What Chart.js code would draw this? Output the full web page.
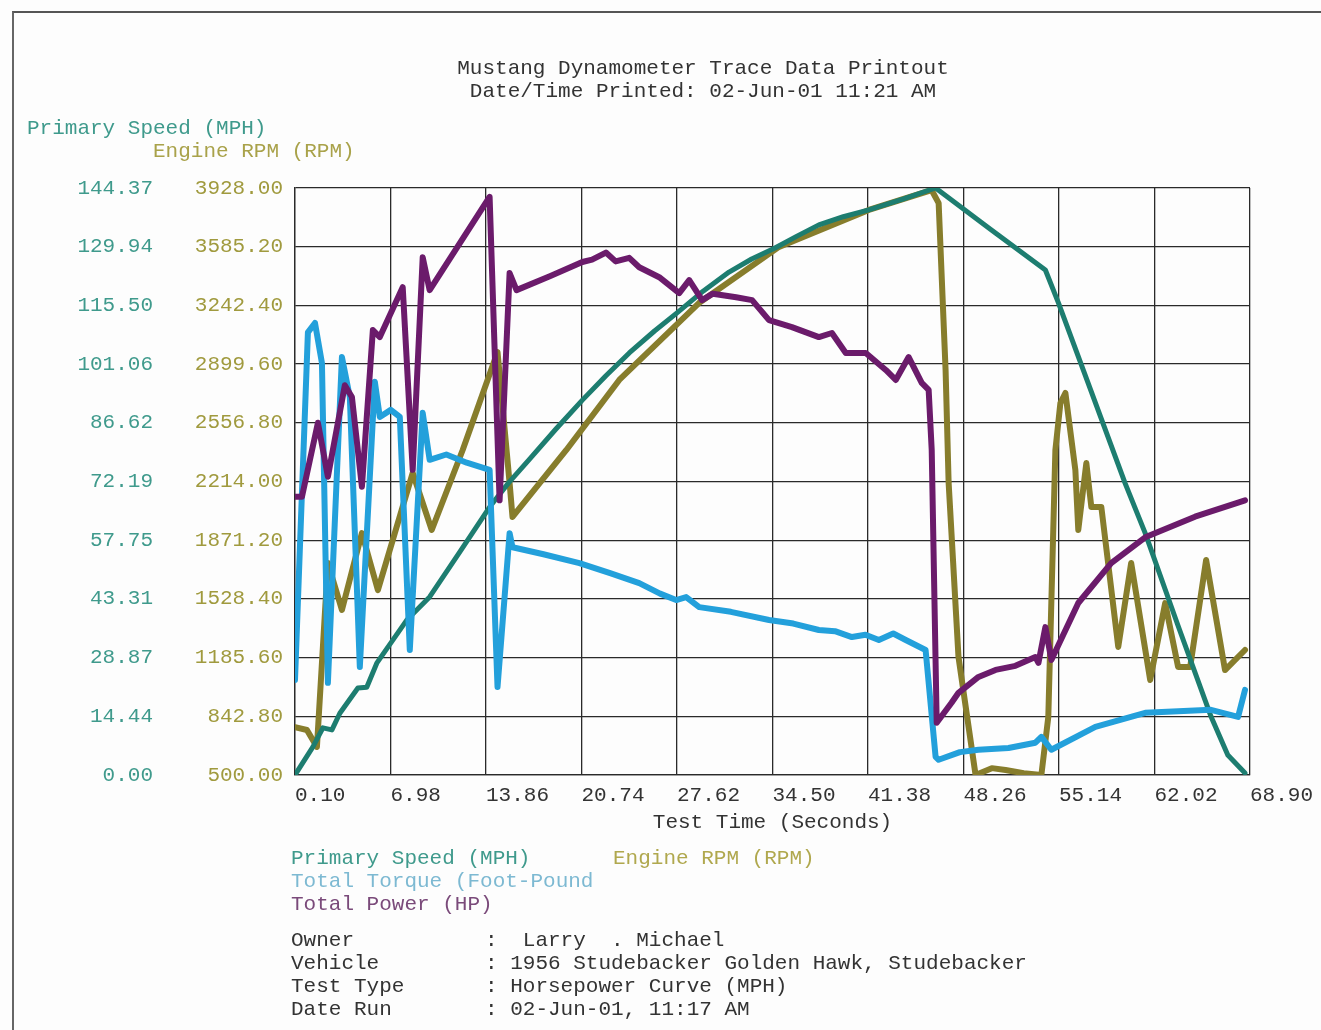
<!DOCTYPE html>
<html lang="en">
<head>
  <meta charset="UTF-8" />
  <title>Mustang Dynamometer Trace Data Printout</title>
  <script src="https://cdn.jsdelivr.net/npm/chart.js"></script>
  <style>
    body { margin: 0; background: #fdfdfd; font-family: "Liberation Mono", monospace; }
    #page { position: relative; width: 1321px; height: 1030px; overflow: hidden; background: #fdfdfd; }
    #frame { position: absolute; left: 12px; top: 11px; right: -5px; bottom: -5px; border-top: 2px solid #555; border-left: 2px solid #666; }
    #chartBox { position: absolute; left: 0; top: 0; width: 1321px; height: 1030px; }
    .t { position: absolute; font-size: 21px; line-height: 23px; white-space: pre; color: #333; }
  </style>
</head>
<body>
<div id="page">
  <div id="frame"></div>
  <div id="chartBox"><canvas id="dyno"></canvas></div>

  <div class="t" style="left:0; width:1406px; text-align:center; top:57px;">Mustang Dynamometer Trace Data Printout</div>
  <div class="t" style="left:0; width:1406px; text-align:center; top:80px;">Date/Time Printed: 02-Jun-01 11:21 AM</div>

  <div class="t" style="left:27px; top:117px; color:#3f9a8c;">Primary Speed (MPH)</div>
  <div class="t" style="left:153px; top:140px; color:#a9a24a;">Engine RPM (RPM)</div>

  <div class="t" style="left:291px; top:847px; color:#3f9a8c;">Primary Speed (MPH)</div>
  <div class="t" style="left:613px; top:847px; color:#b0a84e;">Engine RPM (RPM)</div>
  <div class="t" style="left:291px; top:870px; color:#7db9d2;">Total Torque (Foot-Pound</div>
  <div class="t" style="left:291px; top:893px; color:#7a4a7a;">Total Power (HP)</div>

  <div class="t" style="left:291px; top:929px;">Owner</div>
  <div class="t" style="left:485px; top:929px;">:  Larry  . Michael</div>
  <div class="t" style="left:291px; top:952px;">Vehicle</div>
  <div class="t" style="left:485px; top:952px;">: 1956 Studebacker Golden Hawk, Studebacker</div>
  <div class="t" style="left:291px; top:975px;">Test Type</div>
  <div class="t" style="left:485px; top:975px;">: Horsepower Curve (MPH)</div>
  <div class="t" style="left:291px; top:998px;">Date Run</div>
  <div class="t" style="left:485px; top:998px;">: 02-Jun-01, 11:17 AM</div>
</div>

<script>
  // axis tick labels as printed
  const timeTicks = [0.10, 6.98, 13.86, 20.74, 27.62, 34.50, 41.38, 48.26, 55.14, 62.02, 68.90];
  const speedTicks = [0.00, 14.44, 28.87, 43.31, 57.75, 72.19, 86.62, 101.06, 115.50, 129.94, 144.37];
  const rpmTicks = [500.00, 842.80, 1185.60, 1528.40, 1871.20, 2214.00, 2556.80, 2899.60, 3242.40, 3585.20, 3928.00];

  // Primary Speed (MPH)
  const speedTime = [0.1, 1.39, 2.11, 2.76, 3.33, 4.63, 5.27, 5.99, 8.15, 9.8, 12.0, 14.12, 15.5, 17.0, 18.9, 20.8, 22.5, 24.18, 26.0, 27.71, 29.5, 31.37, 33.0, 34.68, 36.3, 37.84, 39.6, 41.44, 43.95, 46.25, 50.2, 54.16, 55.1, 57.5, 59.9, 61.35, 63.7, 66.1, 67.3, 68.54];
  const speedMph = [0, 6.9, 11.6, 11.1, 15.2, 21.4, 21.6, 27.5, 38.1, 43.8, 55.0, 65.9, 71.9, 77.7, 85.1, 92.2, 98.2, 103.8, 109.2, 113.9, 119.0, 123.7, 126.9, 129.6, 132.6, 135.3, 137.3, 139.0, 141.7, 144.37, 134.2, 124.2, 116.1, 94.0, 71.8, 59.5, 36.9, 14.3, 4.9, 0.5];

  // Engine RPM (RPM)
  const rpmTime = [0.1, 0.96, 1.68, 2.47, 3.48, 4.92, 6.07, 8.58, 9.95, 12.18, 14.69, 15.56, 15.77, 19.65, 23.46, 29.2, 34.97, 41.44, 45.96, 46.47, 46.97, 47.19, 47.9, 49.13, 50.3, 51.29, 52.6, 53.87, 54.37, 54.88, 55.24, 55.6, 56.32, 56.53, 57.11, 57.47, 58.19, 59.41, 60.34, 61.71, 62.79, 63.72, 64.59, 65.74, 67.1, 68.54];
  const rpmVals = [780, 763, 664, 1738, 1464, 1913, 1580, 2264, 1931, 2398, 2970, 2205, 2007, 2398, 2807, 3256, 3584, 3800, 3916, 3840, 2865, 2205, 1189, 500, 540, 529, 510, 500, 839, 2398, 2672, 2731, 2281, 1931, 2322, 2065, 2065, 1248, 1738, 1055, 1504, 1131, 1131, 1756, 1113, 1230];

  // Total Torque (Foot-Pound), read as % of full scale
  const torqueTime = [0.1, 1.03, 1.54, 2.04, 2.47, 3.48, 4.05, 4.77, 5.85, 6.21, 7.0, 7.65, 8.37, 9.3, 9.8, 11.0, 12.47, 14.12, 14.69, 15.56, 15.77, 18.0, 20.59, 22.8, 24.9, 26.4, 27.56, 28.28, 29.22, 31.5, 34.25, 36.0, 37.84, 39.0, 40.22, 41.2, 42.16, 43.2, 44.1, 45.53, 46.25, 46.47, 48.0, 49.34, 51.5, 53.44, 53.87, 54.59, 57.76, 61.35, 66.09, 68.04, 68.54];
  const torquePct = [16.2, 75.4, 77.0, 70.2, 15.7, 71.2, 64.4, 18.4, 67.0, 61.0, 62.2, 61.0, 21.3, 61.7, 53.7, 54.6, 53.2, 52.0, 15.0, 41.2, 38.8, 37.6, 36.1, 34.4, 32.7, 30.9, 29.8, 30.3, 28.6, 27.8, 26.4, 25.8, 24.7, 24.5, 23.5, 23.9, 23.0, 24.1, 23.0, 21.3, 3.1, 2.6, 3.9, 4.3, 4.6, 5.5, 6.5, 4.3, 8.2, 10.6, 11.1, 9.9, 14.5];

  // Total Power (HP), read as % of full scale
  const powerTime = [0.1, 0.6, 1.75, 2.47, 3.69, 4.2, 4.92, 5.71, 6.21, 7.86, 8.58, 9.3, 9.8, 14.12, 14.84, 15.56, 16.06, 18.5, 20.8, 21.5, 22.5, 23.2, 24.18, 24.9, 26.34, 27.78, 28.5, 29.43, 30.2, 31.88, 33.03, 34.25, 35.9, 37.84, 38.78, 39.78, 41.22, 42.66, 43.38, 44.31, 45.25, 45.75, 45.97, 46.33, 47.4, 47.9, 49.34, 50.57, 52.0, 53.44, 53.66, 54.16, 54.59, 56.53, 58.9, 61.35, 64.94, 68.54];
  const powerPct = [47.4, 47.4, 60.0, 50.8, 66.4, 64.4, 49.1, 75.8, 74.6, 83.1, 52.0, 88.2, 82.6, 98.5, 46.8, 85.5, 82.6, 85.0, 87.4, 87.8, 89.0, 87.5, 88.1, 86.5, 84.8, 82.1, 84.3, 80.9, 82.0, 81.4, 80.9, 77.5, 76.3, 74.6, 75.3, 71.9, 71.9, 69.0, 67.3, 71.2, 66.8, 65.6, 55.4, 8.9, 12.3, 14.0, 16.7, 17.9, 18.6, 20.1, 19.1, 25.2, 19.6, 29.3, 36.1, 40.5, 44.0, 46.8];

  const pts = (xs, ys) => xs.map((x, i) => ({ x: x, y: ys[i] }));

  Chart.defaults.font.family = "'Liberation Mono', monospace";
  Chart.defaults.font.size = 21;

  new Chart(document.getElementById("dyno"), {
    type: "line",
    data: {
      datasets: [
        { label: "Total Power (HP)", data: pts(powerTime, powerPct), yAxisID: "yPower",
          borderColor: "#6b1b6b", borderWidth: 6, order: 0 },
        { label: "Total Torque (Foot-Pound", data: pts(torqueTime, torquePct), yAxisID: "yTorque",
          borderColor: "#23a0db", borderWidth: 6, order: 1 },
        { label: "Engine RPM (RPM)", data: pts(rpmTime, rpmVals), yAxisID: "yRpm",
          borderColor: "#877d2c", borderWidth: 6, order: 3 },
        { label: "Primary Speed (MPH)", data: pts(speedTime, speedMph), yAxisID: "ySpeed",
          borderColor: "#1d7d70", borderWidth: 5, order: 2 }
      ]
    },
    options: {
      responsive: true,
      maintainAspectRatio: false,
      animation: false,
      layout: { padding: { left: 0, top: 188, right: 69, bottom: 195 } },
      elements: { point: { radius: 0 }, line: { tension: 0, borderJoinStyle: "round", borderCapStyle: "round" } },
      plugins: { legend: { display: false }, tooltip: { enabled: false } },
      scales: {
        x: {
          type: "linear", min: 0.1, max: 68.9,
          afterBuildTicks: s => { s.ticks = timeTicks.map(v => ({ value: v })); },
          afterFit: s => { s.height = 60; },
          ticks: { color: "#333", padding: 8, align: "start", maxRotation: 0, autoSkip: false,
                   callback: v => Number(v).toFixed(2) },
          grid: { color: "#2a2a2a", lineWidth: 1.3, drawTicks: false },
          border: { color: "#2a2a2a", width: 1.3 },
          title: { display: true, text: "Test Time (Seconds)", color: "#333", padding: 0 }
        },
        ySpeed: {
          position: "left", min: 0, max: 144.37, weight: 2,
          afterBuildTicks: s => { s.ticks = speedTicks.map(v => ({ value: v })); },
          afterFit: s => { s.width = 165; },
          ticks: { color: "#3f9a8c", padding: 4, callback: v => Number(v).toFixed(2) },
          grid: { display: false },
          border: { display: false }
        },
        yRpm: {
          position: "left", min: 500, max: 3928, weight: 1,
          afterBuildTicks: s => { s.ticks = rpmTicks.map(v => ({ value: v })); },
          afterFit: s => { s.width = 130; },
          ticks: { color: "#a09a3e", padding: 12, callback: v => Number(v).toFixed(2) },
          grid: { color: "#2a2a2a", lineWidth: 1.3, drawTicks: false },
          border: { color: "#2a2a2a", width: 1.3 }
        },
        yTorque: { display: false, min: 0, max: 100 },
        yPower: { display: false, min: 0, max: 100 }
      }
    }
  });
</script>
</body>
</html>
